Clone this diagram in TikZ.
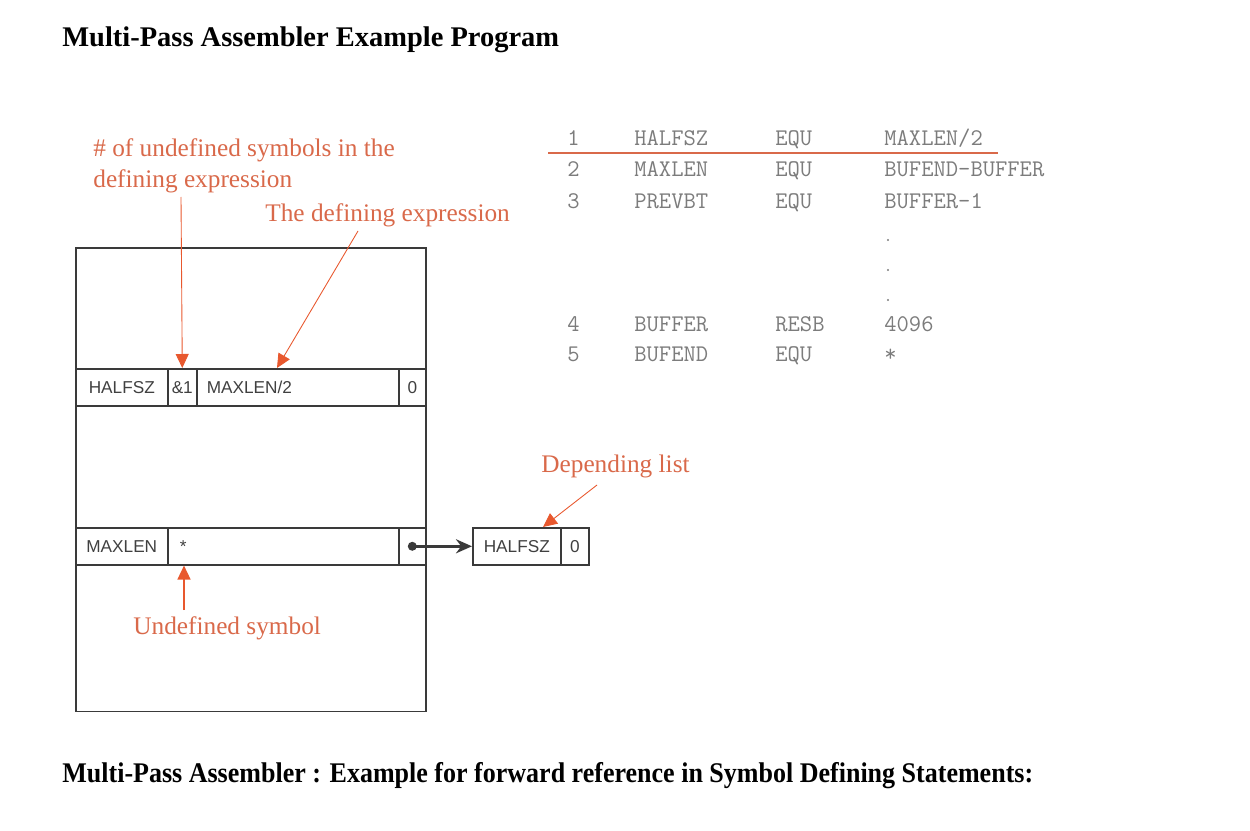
\documentclass[tikz,border=0pt]{standalone}
\usepackage{fontspec}
\setmainfont{Liberation Serif}
\setsansfont{Liberation Sans}
\usepackage{xcolor}
\usetikzlibrary{positioning,arrows.meta,calc}
\definecolor{ink900}{HTML}{111111}
\definecolor{ink700}{HTML}{3a3a3a}
\definecolor{ink600}{HTML}{404040}
\definecolor{ink500}{HTML}{7c7c7c}
\definecolor{coral500}{HTML}{E8582E}
\definecolor{coral400}{HTML}{D9694A}
\tikzset{
  every node/.style={inner sep=0pt},
  heading/.style={font=\fontsize{16.2}{18}\selectfont\bfseries, color=black, anchor=west},
  cell/.style={
    rectangle, draw=ink700, line width=0.9pt,
    anchor=north west, minimum height=0.74cm,
    font=\sffamily\fontsize{9.8}{12}\selectfont, text=ink600
  },
  note/.style={font=\fontsize{14.4}{16}\selectfont, color=coral400, anchor=west, align=left},
  pointer/.style={
    -{Triangle[length=2.8mm,width=2.6mm]},
    draw=coral400, line width=0.5pt, color=coral500
  },
  listing/.style={font=\ttfamily\fontsize{13.6}{15}\selectfont, color=ink500, anchor=base west},
}

\begin{document}
\begin{tikzpicture}[x=0.02cm, y=-0.02cm]
  \useasboundingbox (0,0) rectangle (1250,831);
  \node[heading] (title) at (62,40) {Multi-Pass Assembler Example Program};
  \node[heading] (caption) at (62,776) {\scalebox{0.914}[1]{Multi-Pass Assembler : Example for forward reference in Symbol Defining Statements:}};

  % symbol table
  \node[cell, minimum width=7cm, minimum height=9.28cm] (symtab) at (75,247) {};
  \node[cell, minimum width=1.84cm] (r1name) at (75,368) {HALFSZ};
  \node[cell, minimum width=0.58cm] (r1count) at (167,368) {\&1};
  \node[cell, minimum width=4.04cm] (r1expr) at (196,368) {};
  \node[cell, minimum width=0.54cm] (r1link) at (398,368) {0};
  \node[cell, draw=none, anchor=west] (r1text) at (206,387) {MAXLEN/2};
  \node[cell, minimum width=1.84cm] (r2name) at (75,527) {MAXLEN};
  \node[cell, minimum width=4.62cm] (r2expr) at (167,527) {};
  \node[cell, minimum width=0.54cm] (r2link) at (398,527) {};
  \node[cell, draw=none, anchor=west] (r2text) at (179,547) {*};
  \node[cell, minimum width=1.76cm] (depname) at (472,527) {HALFSZ};
  \node[cell, minimum width=0.56cm] (deplink) at (560,527) {0};
  \fill[ink700] (r2link.center) circle (4.5);
  \draw[-{Stealth[length=3.2mm,width=2.8mm]}, ink700, line width=1.8pt] (r2link.center) -- (depname.west);

  % labels
  \node[note] (ncount) at (93,150) {\# of undefined symbols in the};
  \node[note] (ncount2) at (93,181) {defining expression};
  \node[note] (nexpr) at (265,215) {The defining expression};
  \node[note] (ndep) at (541,466) {Depending list};
  \node[note] (nundef) at (133,628) {Undefined symbol};
  \coordinate (c1) at (181,197);
  \coordinate (c2) at (358,231);
  \coordinate (c3) at (597,485);
  \coordinate (c4) at (184,610);
  \draw[pointer] (c1) -- (r1count.north);
  \draw[pointer] (c2) -- ($(r1expr.north west)+(81,0)$);
  \draw[pointer] (c3) -- ($(depname.north west)+(71,0)$);
  \draw[pointer, line width=0.9pt] (c4) -- ($(r2expr.south west)+(17,0)$);

  % source listing
  \foreach \n/\lab/\op/\arg/\y in {1/HALFSZ/EQU/MAXLEN\slash 2/146, 2/MAXLEN/EQU/BUFEND-BUFFER/177,
      3/PREVBT/EQU/BUFFER-1/209, 4/BUFFER/RESB/4096/331, 5/BUFEND/EQU/*/361} {
    \node[listing] (num\n) at (567,\y) {\n};
    \node[listing] (lab\n) at (634,\y) {\lab};
    \node[listing] (op\n) at (775,\y) {\op};
    \node[listing] (arg\n) at (884,\y) {\arg};
  }
  \foreach \y in {240,270,300}
    \fill[ink500] (888,\y) circle (1.2);
  \draw[coral400, line width=0.9pt] (548,153) -- (998,153);
\end{tikzpicture}
\end{document}
